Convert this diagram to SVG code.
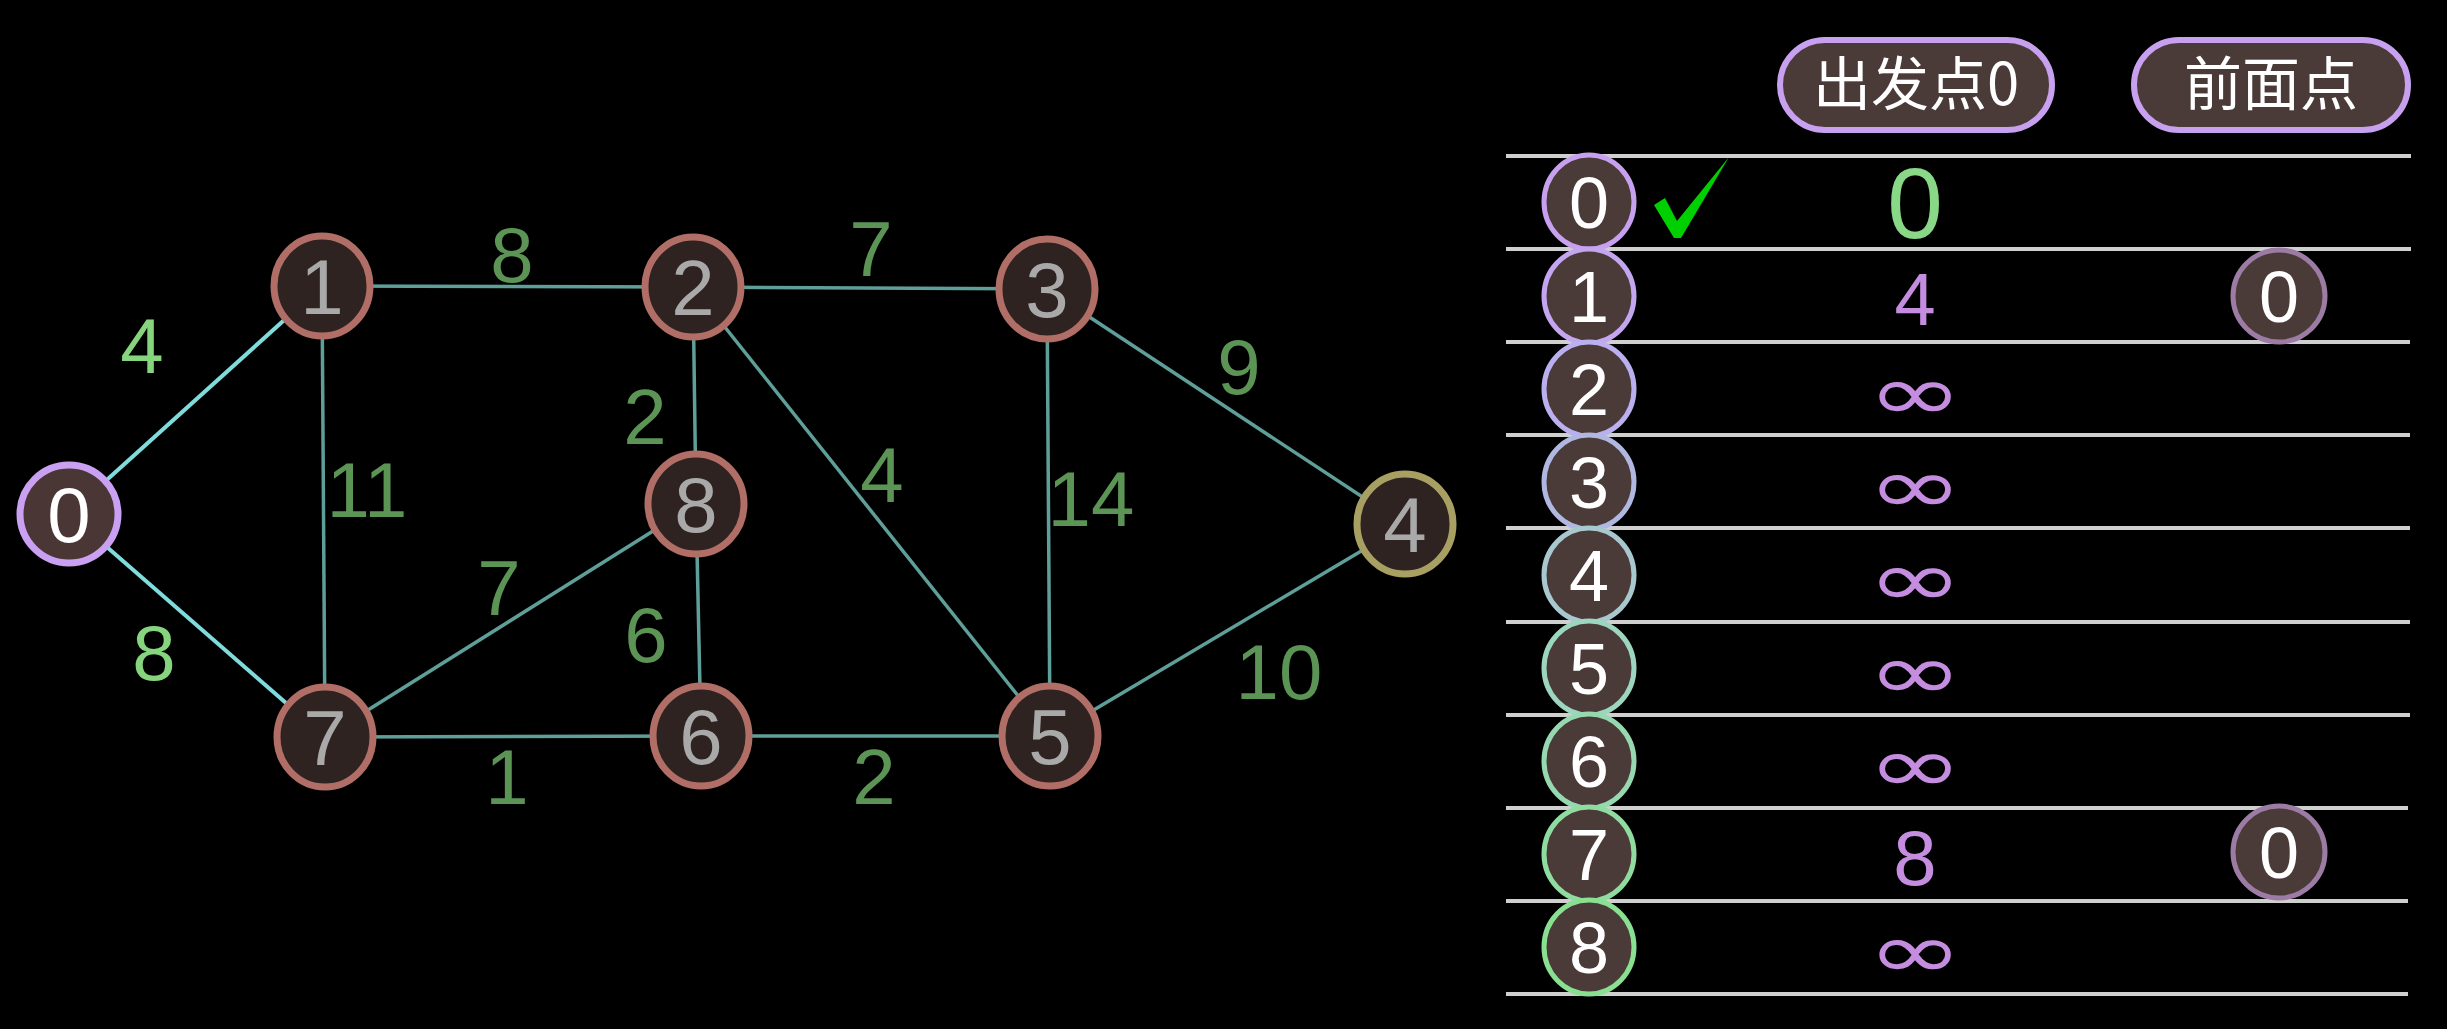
<svg xmlns="http://www.w3.org/2000/svg" width="2447" height="1029" viewBox="0 0 2447 1029">
<style>
text{font-family:"Liberation Sans","Noto Sans CJK SC",sans-serif;text-anchor:middle}
.edge{stroke:#5f9f9a;stroke-width:3.5;fill:none}
.edge0{stroke:#80dcdc;stroke-width:4;fill:none}
.node ellipse{fill:#2e2321;stroke:#b06e66;stroke-width:7}
.node text{fill:#a9a9a9;font-size:78px}
.w{fill:#5c9456;font-size:78px}
.wl{fill:#86d47e;font-size:78px}
.rule{stroke:#cfcfcf;stroke-width:4}
.rc{fill:#4a3a38;stroke-width:5}
.rt{fill:#ffffff;font-size:72px}
.inf{fill:#c58de0;font-family:"DejaVu Sans",sans-serif;font-size:78px}
.pill{fill:#4a3a38;stroke:#c8a0f0;stroke-width:6}
.ht{fill:#ffffff;font-size:58px;font-family:"Noto Sans CJK SC",sans-serif}
</style>
<rect x="0" y="0" width="2447" height="1029" fill="#000000"/>
<g id="connectors">
<line class="edge0" x1="69" y1="514" x2="322" y2="286"/>
<line class="edge0" x1="69" y1="514" x2="325" y2="737"/>
<line class="edge" x1="322" y1="286" x2="693" y2="287"/>
<line class="edge" x1="322" y1="286" x2="325" y2="737"/>
<line class="edge" x1="693" y1="287" x2="1047" y2="289"/>
<line class="edge" x1="693" y1="287" x2="696" y2="504"/>
<line class="edge" x1="693" y1="287" x2="1050" y2="736"/>
<line class="edge" x1="1047" y1="289" x2="1405" y2="525"/>
<line class="edge" x1="1047" y1="289" x2="1050" y2="736"/>
<line class="edge" x1="696" y1="504" x2="325" y2="737"/>
<line class="edge" x1="696" y1="504" x2="701" y2="736"/>
<line class="edge" x1="325" y1="737" x2="701" y2="736"/>
<line class="edge" x1="701" y1="736" x2="1050" y2="736"/>
<line class="edge" x1="1050" y1="736" x2="1405" y2="525"/>
</g>
<g id="edge-labels">
<text class="wl" x="142" y="373">4</text>
<text class="wl" x="154" y="680">8</text>
<text class="w" x="512" y="282">8</text>
<text class="w" x="871" y="276">7</text>
<text class="w" x="1239" y="394">9</text>
<text class="w" x="367" y="517">11</text>
<text class="w" x="645" y="444">2</text>
<text class="w" x="882" y="502">4</text>
<text class="w" x="1091" y="526">14</text>
<text class="w" x="499" y="615">7</text>
<text class="w" x="646" y="662">6</text>
<text class="w" x="1279" y="699">10</text>
<text class="w" x="507" y="804">1</text>
<text class="w" x="874" y="804">2</text>
</g>
<g id="node0" class="node"><ellipse cx="69" cy="514" rx="49" ry="49" style="fill:#4a3634;stroke:#c9a0f2"/><text x="69" y="542" style="fill:#ffffff">0</text></g>
<g id="node1" class="node"><ellipse cx="322" cy="286" rx="48" ry="50"/><text x="322" y="314">1</text></g>
<g id="node2" class="node"><ellipse cx="693" cy="287" rx="48" ry="50"/><text x="693" y="315">2</text></g>
<g id="node3" class="node"><ellipse cx="1047" cy="289" rx="48" ry="50"/><text x="1047" y="317">3</text></g>
<g id="node4" class="node"><ellipse cx="1405" cy="524" rx="48" ry="50" style="stroke:#a8a062"/><text x="1405" y="552">4</text></g>
<g id="node5" class="node"><ellipse cx="1050" cy="736" rx="48" ry="50"/><text x="1050" y="764">5</text></g>
<g id="node6" class="node"><ellipse cx="701" cy="736" rx="48" ry="50"/><text x="701" y="764">6</text></g>
<g id="node7" class="node"><ellipse cx="325" cy="737" rx="48" ry="50"/><text x="325" y="765">7</text></g>
<g id="node8" class="node"><ellipse cx="696" cy="504" rx="48" ry="50"/><text x="696" y="532">8</text></g>
<g id="header-dist"><rect class="pill" x="1780" y="40" width="272" height="90" rx="45"/><text class="ht" x="1916" y="105">出发点0</text></g>
<g id="header-prev"><rect class="pill" x="2134" y="40" width="274" height="90" rx="45"/><text class="ht" x="2271" y="105">前面点</text></g>
<g id="table-rules">
<line class="rule" x1="1506" y1="156" x2="2411" y2="156"/>
<line class="rule" x1="1506" y1="249" x2="2411" y2="249"/>
<line class="rule" x1="1506" y1="342" x2="2410" y2="342"/>
<line class="rule" x1="1506" y1="435" x2="2410" y2="435"/>
<line class="rule" x1="1506" y1="528" x2="2410" y2="528"/>
<line class="rule" x1="1506" y1="622" x2="2410" y2="622"/>
<line class="rule" x1="1506" y1="715" x2="2410" y2="715"/>
<line class="rule" x1="1506" y1="808" x2="2408" y2="808"/>
<line class="rule" x1="1506" y1="901" x2="2408" y2="901"/>
<line class="rule" x1="1506" y1="994" x2="2408" y2="994"/>
</g>
<g id="row0"><ellipse class="rc" cx="1589" cy="202" rx="45" ry="47" stroke="#c8a0f0"/><text class="rt" x="1589" y="228">0</text>
<path d="M1654,205 L1665,198 L1677,221 L1729,157 L1681,238 L1674,238 Z" fill="#00d000"/>
<text x="1915" y="238" style="fill:#88d888;font-size:100px">0</text></g>
<g id="row1"><ellipse class="rc" cx="1589" cy="296" rx="45" ry="47" stroke="#c4a6f0"/><text class="rt" x="1589" y="322">1</text>
<text x="1915" y="325" style="fill:#c58de0;font-size:74px">4</text>
<ellipse class="rc" cx="2279" cy="296" rx="46" ry="46" stroke="#9c7ca4"/><text class="rt" x="2279" y="322">0</text></g>
<g id="row2"><ellipse class="rc" cx="1589" cy="389" rx="45" ry="47" stroke="#bab0f0"/><text class="rt" x="1589" y="415">2</text><text class="inf" transform="translate(1915,420) scale(1.48,1)">∞</text></g>
<g id="row3"><ellipse class="rc" cx="1589" cy="482" rx="45" ry="47" stroke="#b0b8e2"/><text class="rt" x="1589" y="508">3</text><text class="inf" transform="translate(1915,513) scale(1.48,1)">∞</text></g>
<g id="row4"><ellipse class="rc" cx="1589" cy="575" rx="45" ry="47" stroke="#a8c8d0"/><text class="rt" x="1589" y="601">4</text><text class="inf" transform="translate(1915,606) scale(1.48,1)">∞</text></g>
<g id="row5"><ellipse class="rc" cx="1589" cy="668" rx="45" ry="47" stroke="#9cd6c0"/><text class="rt" x="1589" y="694">5</text><text class="inf" transform="translate(1915,699) scale(1.48,1)">∞</text></g>
<g id="row6"><ellipse class="rc" cx="1589" cy="761" rx="45" ry="47" stroke="#96d8b0"/><text class="rt" x="1589" y="787">6</text><text class="inf" transform="translate(1915,792) scale(1.48,1)">∞</text></g>
<g id="row7"><ellipse class="rc" cx="1589" cy="854" rx="45" ry="47" stroke="#90dca0"/><text class="rt" x="1589" y="880">7</text>
<text x="1915" y="885" style="fill:#c58de0;font-size:78px">8</text>
<ellipse class="rc" cx="2279" cy="852" rx="46" ry="46" stroke="#9c7ca4"/><text class="rt" x="2279" y="878">0</text></g>
<g id="row8"><ellipse class="rc" cx="1589" cy="947" rx="45" ry="47" stroke="#88e090"/><text class="rt" x="1589" y="973">8</text><text class="inf" transform="translate(1915,978) scale(1.48,1)">∞</text></g>
</svg>
